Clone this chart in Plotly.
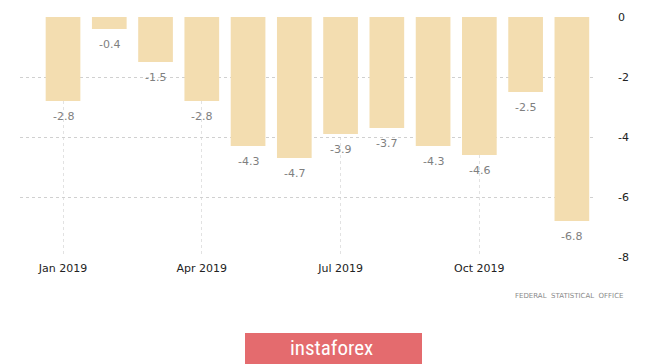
import plotly.graph_objects as go

months = ["Jan", "Feb", "Mar", "Apr", "May", "Jun", "Jul", "Aug", "Sep", "Oct", "Nov", "Dec"]
values = [-2.8, -0.4, -1.5, -2.8, -4.3, -4.7, -3.9, -3.7, -4.3, -4.6, -2.5, -6.8]
tick_labels = ["Jan 2019", "Apr 2019", "Jul 2019", "Oct 2019"]
tick_idx = [0, 3, 6, 9]
y_ticks = [0, -2, -4, -6, -8]

x = list(range(len(months)))

# page body has an 8px margin, so the figure is offset by 8px; compensate in margins
OFF = 8
PL, PT, PR, PB = 20 - OFF, 17 - OFF, 595 - OFF, 257 - OFF
PW, PH = PR - PL, PB - PT

fig = go.Figure()
fig.add_trace(go.Bar(
    x=x, y=values,
    marker=dict(color="#F3DDB0", line=dict(width=0)),
    width=0.75,
    hoverinfo="skip",
))

annotations = [
    dict(x=xi, y=v, xref="x", yref="y", text=f"{v:.1f}", showarrow=False,
         yanchor="middle", yshift=-15,
         font=dict(color="#7f7f7f", size=11, family="DejaVu Sans"))
    for xi, v in zip(x, values)
]
annotations += [
    dict(text="FEDERAL  STATISTICAL  OFFICE", xref="paper", yref="paper",
         x=(626 - 20) / PW, y=-(296 - 257) / PH, xanchor="right", yanchor="middle",
         showarrow=False, font=dict(size=7, color="#8a8a8a", family="DejaVu Sans")),
    dict(text="instaforex", xref="paper", yref="paper",
         x=(331 - 20) / PW, y=-(348 - 257) / PH, xanchor="center", yanchor="middle",
         showarrow=False,
         font=dict(size=21, color="white",
                   family="Liberation Sans Narrow, Roboto Condensed, Roboto")),
]

fig.update_layout(
    width=665, height=364,
    margin=dict(l=PL, r=665 - PR, t=PT, b=364 - PB, autoexpand=False),
    plot_bgcolor="white", paper_bgcolor="white",
    showlegend=False,
    xaxis=dict(
        range=[-0.93, 11.5], automargin=False,
        tickmode="array", tickvals=tick_idx, ticktext=tick_labels,
        showgrid=True, gridcolor="#e2e2e2", griddash="dot", gridwidth=1,
        zeroline=False, showline=False, ticks="",
        tickfont=dict(color="#222222", size=11, family="DejaVu Sans"),
        ticklabelstandoff=3,
    ),
    yaxis=dict(
        range=[-8, 0], side="right", automargin=False,
        tickmode="array", tickvals=y_ticks, ticktext=[str(v) for v in y_ticks],
        showgrid=True, gridcolor="#d0d0d0", griddash="dot", gridwidth=1,
        zeroline=False, showline=False, ticks="",
        tickfont=dict(color="#222222", size=11, family="DejaVu Sans"),
        ticklabelstandoff=22,
    ),
    annotations=annotations,
    shapes=[
        dict(type="rect", xref="paper", yref="paper",
             x0=(245 - 20) / PW, x1=(422 - 20) / PW,
             y0=-(333 - 257) / PH, y1=-(372 - 257) / PH,
             fillcolor="#E46B6E", line=dict(width=0), layer="below"),
    ],
)

fig.write_html("out.html")
